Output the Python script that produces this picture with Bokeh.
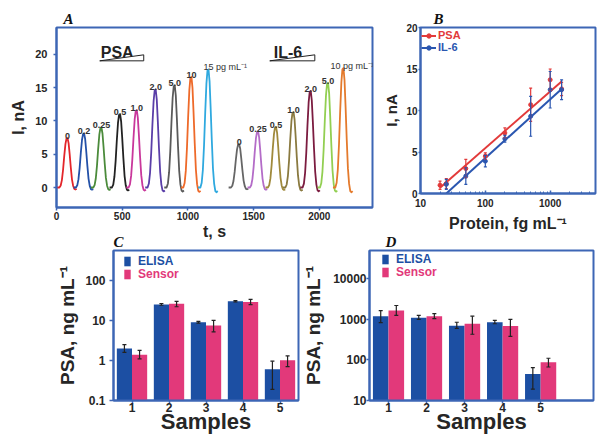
from bokeh.plotting import figure
from bokeh.layouts import column, row
from bokeh.models import (ColumnDataSource, Whisker, TeeHead, Legend, LegendItem,
                          FixedTicker, CustomJSTickFormatter, Range1d)
from bokeh.embed import file_html
from bokeh.resources import INLINE
from bokeh.core.properties import value

SANS = "Liberation Sans"
SERIF = "Liberation Serif"
FRAME = "#3d66b5"
TXT = "#262626"
BLUE = "#1c4fa3"
PINK = "#e2397a"
RED = "#e23a3a"
LBLUE = "#2a56b0"

# ---------------- Panel A data ----------------
psa_levels = ["0", "0.2", "0.25", "0.5", "1.0", "2.0", "5.0", "10", "15"]
psa_time = [84, 210, 342, 484, 611, 755, 900, 1027, 1157]
psa_peak = [7.4, 8.1, 9.0, 11.0, 11.6, 14.7, 15.3, 16.6, 17.7]
psa_colors = ["#e3262b", "#2351a8", "#4b8b3b", "#222222", "#c9379b",
              "#5a3ea8", "#5a5a5a", "#ee6a2a", "#2fa9df"]
il6_levels = ["0", "0.25", "0.5", "1.0", "2.0", "5.0", "10"]
il6_time = [1390, 1534, 1671, 1804, 1935, 2067, 2184]
il6_peak = [6.5, 8.4, 9.1, 11.3, 14.5, 15.7, 17.9]
il6_colors = ["#666666", "#b46cc8", "#a08a3c", "#8a7a40", "#7c1c40", "#92cf52", "#e47a2c"]
# shared peak profile (time offset in s, fraction of peak height)
peak_dt = [-80, -62, -52, -43, -34, -25, -16, -8, 0, 8, 16, 25, 34, 43, 52, 60, 70]
peak_shape = [0, 0, 0.04, 0.15, 0.36, 0.64, 0.88, 0.99, 1.0, 0.9, 0.68, 0.4,
              0.16, 0.03, -0.03, -0.04, -0.03]
unit_label = " pg mL\u207b\u00b9"

# ---------------- Panel B data ----------------
b_conc_psa = [20, 25, 50, 100, 200, 500, 1000, 1500]
b_psa = [1.0, 1.2, 3.0, 4.5, 7.3, 10.7, 13.7, 12.6]
b_psa_err = [0.5, 0.6, 1.1, 0.4, 0.6, 2.0, 1.3, 0.8]
b_conc_il6 = [25, 50, 100, 200, 500, 1000, 1500]
b_il6 = [1.1, 2.1, 3.9, 6.6, 9.3, 12.5, 12.5]
b_il6_err = [0.6, 1.0, 0.7, 0.4, 2.4, 2.2, 1.2]
fit_psa_x = [20, 1500]
fit_psa_y = [0.7, 13.5]
fit_il6_x = [25, 1500]
fit_il6_y = [0.0, 12.6]

# ---------------- Panels C / D data ----------------
samples = [1, 2, 3, 4, 5]
c_elisa = [2.0, 25, 9.0, 30, 0.6]
c_elisa_lo = [1.6, 24, 8.6, 29, 0.19]
c_elisa_hi = [2.5, 26.5, 9.5, 31.5, 0.96]
c_sensor = [1.4, 26, 7.5, 29, 1.02]
c_sensor_lo = [1.1, 22, 5.2, 25, 0.7]
c_sensor_hi = [1.78, 30, 10, 33.5, 1.3]
d_elisa = [1200, 1100, 700, 850, 45]
d_elisa_lo = [830, 1000, 600, 780, 19]
d_elisa_hi = [1650, 1250, 850, 950, 65]
d_sensor = [1650, 1200, 780, 690, 88]
d_sensor_lo = [1250, 1050, 430, 380, 67]
d_sensor_hi = [2200, 1380, 1200, 1000, 110]

BAR_W = 0.41


def base_style(p, tick_fs):
    p.outline_line_color = FRAME
    p.outline_line_width = 2
    p.xgrid.visible = False
    p.ygrid.visible = False
    for ax in p.axis:
        ax.axis_line_color = FRAME
        ax.axis_line_width = 2
        ax.major_tick_line_color = FRAME
        ax.major_tick_line_width = 1.5
        ax.minor_tick_line_color = None
        ax.major_tick_in = 0
        ax.major_label_text_font = SANS
        ax.major_label_text_font_style = "bold"
        ax.major_label_text_font_size = tick_fs
        ax.major_label_text_color = TXT
        ax.axis_label_text_font = SANS
        ax.axis_label_text_font_style = "bold"
        ax.axis_label_text_color = TXT


def letter(p, txt, offset):
    p.title.text = txt
    p.title.text_font = SERIF
    p.title.text_font_style = "bold italic"
    p.title.text_font_size = "15px"
    p.title.text_color = "#111111"
    p.title.align = "left"
    p.title.offset = offset
    p.title.standoff = 2


fmt = CustomJSTickFormatter(code="return tick.toString();")

# ================= Panel A =================
pA = figure(frame_width=316, frame_height=180, x_range=Range1d(0, 2405),
            y_range=Range1d(-3.0, 24.0), output_backend="svg", toolbar_location=None,
            min_border_left=56, min_border_right=8, min_border_top=27, min_border_bottom=33)
base_style(pA, "11px")
pA.xaxis.major_label_text_font_size = "10px"
pA.xaxis.ticker = FixedTicker(ticks=[0, 500, 1000, 1500, 2000])
pA.yaxis.ticker = FixedTicker(ticks=[0, 5, 10, 15, 20])
pA.xaxis.axis_label = "t, s"
pA.xaxis.axis_label_text_font_size = "16px"
pA.yaxis.axis_label = "I, nA"
pA.yaxis.axis_label_text_font_size = "16px"
pA.xaxis.major_tick_out = 3
pA.xaxis.major_label_standoff = 1
pA.xaxis.axis_label_standoff = 0
pA.yaxis.major_tick_out = 3
pA.yaxis.major_label_standoff = 6
pA.yaxis.axis_label_standoff = 5

all_t = psa_time + il6_time
all_h = psa_peak + il6_peak
all_c = psa_colors + il6_colors
xs = [[t + d for d in peak_dt] for t in all_t]
ys = [[h * f for f in peak_shape] for h in all_h]
pA.multi_line(xs=xs, ys=ys, line_color=all_c, line_width=1.8, line_join="round")

lab_t = psa_time[:-1] + il6_time[:-1]
lab_h = [h + 0.35 for h in psa_peak[:-1] + il6_peak[:-1]]
lab_s = psa_levels[:-1] + il6_levels[:-1]
pA.text(x=lab_t, y=lab_h, text=lab_s, text_font=value(SANS), text_font_style="bold",
        text_font_size="9px", text_color="#333333", text_align="center",
        text_baseline="alphabetic")
pA.text(x=[psa_time[-1]], y=[psa_peak[-1] + 0.35], text=[psa_levels[-1] + unit_label],
        text_font=value(SANS), text_font_size="9px", text_color="#333333",
        text_align="left", text_baseline="alphabetic", x_offset=-5)
pA.text(x=[il6_time[-1]], y=[il6_peak[-1] + 0.35], text=[il6_levels[-1] + unit_label],
        text_font=value(SANS), text_font_size="9px", text_color="#333333",
        text_align="left", text_baseline="alphabetic", x_offset=-13)

# group headers with increasing-concentration wedges
hdr_txt = ["PSA", "IL-6"]
hdr_x = [337, 1654]
hdr_y = [20.25, 20.25]
pA.text(x=hdr_x, y=hdr_y, text=hdr_txt, text_font=value(SANS), text_font_style="bold",
        text_font_size="16px", text_color="#222222", text_baseline="alphabetic")
wedge_x0 = [329, 1623]
wedge_x1 = [664, 1966]
wedge_lo = 19.0
wedge_hi = 19.9
pA.patches(xs=[[a, b, b] for a, b in zip(wedge_x0, wedge_x1)],
           ys=[[wedge_lo, wedge_hi, wedge_lo]] * 2,
           fill_color="white", line_color="#222222", line_width=1)
letter(pA, "A", 7)

# ================= Panel B =================
pB = figure(frame_width=175, frame_height=166, x_axis_type="log",
            x_range=Range1d(10, 5000), y_range=Range1d(0, 20),
            output_backend="svg", toolbar_location=None,
            min_border_left=35, min_border_right=10, min_border_top=26, min_border_bottom=48)
base_style(pB, "10px")
pB.xaxis.ticker = FixedTicker(ticks=[10, 100, 1000],
                              minor_ticks=[20, 30, 40, 50, 60, 70, 80, 90,
                                           200, 300, 400, 500, 600, 700, 800, 900,
                                           2000, 3000, 4000, 5000])
pB.xaxis.formatter = fmt
pB.xaxis.minor_tick_line_color = FRAME
pB.xaxis.minor_tick_in = 2
pB.xaxis.minor_tick_out = 0
pB.xaxis.major_tick_in = 3
pB.xaxis.major_tick_out = 0
pB.xaxis.major_label_standoff = 5
pB.xaxis.axis_label_standoff = 5
pB.yaxis.ticker = FixedTicker(ticks=[0, 5, 10, 15, 20])
pB.yaxis.major_tick_out = 2
pB.yaxis.major_label_standoff = 1
pB.yaxis.axis_label_standoff = 3
pB.xaxis.axis_label = "Protein, fg mL\u207b\u00b9"
pB.xaxis.axis_label_text_font_size = "16px"
pB.yaxis.axis_label = "I, nA"
pB.yaxis.axis_label_text_font_size = "15px"

srcP = ColumnDataSource(dict(x=b_conc_psa, y=b_psa,
                             lo=[v - e for v, e in zip(b_psa, b_psa_err)],
                             hi=[v + e for v, e in zip(b_psa, b_psa_err)]))
srcI = ColumnDataSource(dict(x=b_conc_il6, y=b_il6,
                             lo=[v - e for v, e in zip(b_il6, b_il6_err)],
                             hi=[v + e for v, e in zip(b_il6, b_il6_err)]))
for src, col in ((srcP, RED), (srcI, LBLUE)):
    pB.add_layout(Whisker(source=src, base="x", lower="lo", upper="hi", dimension="height",
                          line_color=col, line_width=1.2, level="overlay",
                          upper_head=TeeHead(size=3, line_color=col, line_width=1.2),
                          lower_head=TeeHead(size=3, line_color=col, line_width=1.2)))
lP = pB.line(fit_psa_x, fit_psa_y, line_color=RED, line_width=2)
lI = pB.line(fit_il6_x, fit_il6_y, line_color=LBLUE, line_width=2)
sP = pB.scatter("x", "y", source=srcP, size=4, color=RED)
sI = pB.scatter("x", "y", source=srcI, size=4, color=LBLUE)


def mk_legend(label, rends, color, loc, fs, gw, gh, standoff):
    return Legend(items=[LegendItem(label=label, renderers=rends)], location=loc,
                  label_text_font=SANS, label_text_font_style="bold",
                  label_text_font_size=fs, label_text_color=color,
                  glyph_width=gw, glyph_height=gh, label_standoff=standoff,
                  label_height=int(gh), padding=0, margin=0, spacing=0,
                  border_line_color=None, background_fill_alpha=0)


pB.add_layout(mk_legend("PSA", [lP, sP], RED, (1, 152), "11px", 15, 11, 2))
pB.add_layout(mk_legend("IL-6", [lI, sI], LBLUE, (1, 140), "11px", 15, 11, 2))
letter(pB, "B", 13)

# ================= Panels C / D =================
FRAME_H_CD = 150


def bar_panel(ymin, ymax, xmax, left, fw, right, elisa, elo, ehi, sensor, slo, shi, yticks):
    p = figure(frame_width=fw, frame_height=FRAME_H_CD, x_range=Range1d(0.5, xmax),
               y_range=Range1d(ymin, ymax), y_axis_type="log",
               output_backend="svg", toolbar_location=None,
               min_border_left=left, min_border_right=right, min_border_top=17,
               min_border_bottom=34)
    p.border_fill_color = None
    base_style(p, "12px")
    p.xaxis.ticker = FixedTicker(ticks=samples)
    p.yaxis.ticker = FixedTicker(ticks=yticks)
    p.yaxis.formatter = fmt
    p.xaxis.major_tick_out = 3
    p.xaxis.major_label_standoff = -1
    p.xaxis.axis_label_standoff = -6
    p.xaxis.axis_label = "Samples"
    p.xaxis.axis_label_text_font_size = "22px"
    p.yaxis.axis_label = "PSA, ng mL\u207b\u00b9"
    p.yaxis.axis_label_text_font_size = "19px"
    se = ColumnDataSource(dict(x=[s - BAR_W / 2 for s in samples], top=elisa, lo=elo, hi=ehi))
    ss = ColumnDataSource(dict(x=[s + BAR_W / 2 for s in samples], top=sensor, lo=slo, hi=shi))
    rE = p.vbar(x="x", top="top", bottom=ymin, width=BAR_W, source=se,
                fill_color=BLUE, line_color=None)
    rS = p.vbar(x="x", top="top", bottom=ymin, width=BAR_W, source=ss,
                fill_color=PINK, line_color=None)
    for src in (se, ss):
        p.add_layout(Whisker(source=src, base="x", lower="lo", upper="hi", dimension="height",
                             line_color="#222222", line_width=1.2, level="overlay",
                             upper_head=TeeHead(size=4, line_color="#222222", line_width=1.2),
                             lower_head=TeeHead(size=4, line_color="#222222", line_width=1.2)))
    return p, rE, rS


pC, cE, cS = bar_panel(0.1, 560, 5.5, 113, 185, 2, c_elisa, c_elisa_lo, c_elisa_hi,
                       c_sensor, c_sensor_lo, c_sensor_hi, [0.1, 1, 10, 100])
pC.yaxis.major_tick_out = 4
pC.yaxis.major_label_standoff = 4
pC.yaxis.axis_label_standoff = 4
pC.add_layout(mk_legend("ELISA", [cE], BLUE, (10, 132), "12px", 8, 12, 7))
pC.add_layout(mk_legend("Sensor", [cS], PINK, (10, 119), "12px", 8, 12, 7))
letter(pC, "C", 0)

pD, dE, dS = bar_panel(10, 50000, 6.39, 66, 224, 10, d_elisa, d_elisa_lo, d_elisa_hi,
                       d_sensor, d_sensor_lo, d_sensor_hi, [10, 100, 1000, 10000])
pD.yaxis.major_tick_out = 3
pD.yaxis.major_label_standoff = 0
pD.yaxis.axis_label_standoff = 6
pD.add_layout(mk_legend("ELISA", [dE], BLUE, (12, 134), "12px", 8, 12, 7))
pD.add_layout(mk_legend("Sensor", [dS], PINK, (12, 121), "12px", 8, 12, 7))
letter(pD, "D", 16)

layout = column(row(pA, pB), row(pC, pD, margin=(-12, 0, 0, 0)))
open("out.html", "w").write(file_html(layout, INLINE))
